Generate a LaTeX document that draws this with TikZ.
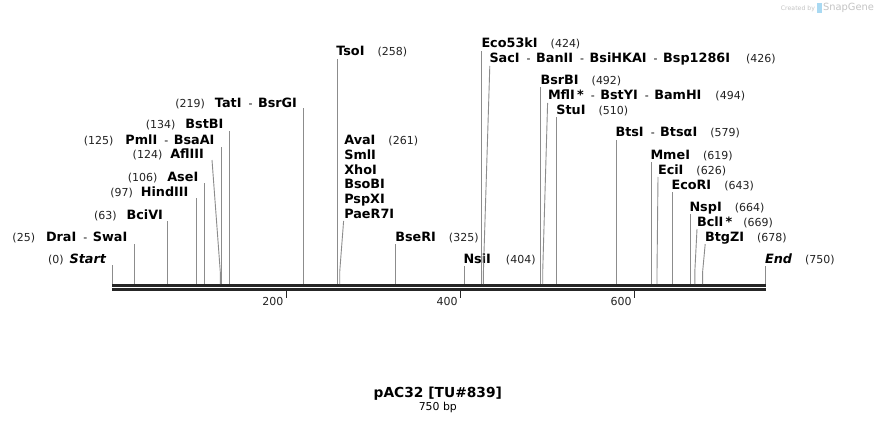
\documentclass[tikz,border=0pt]{standalone}
\usepackage{fontspec}
\setmainfont{DejaVu Sans}
\newcommand\SGname[1]{{\fontsize{12.8}{14}\selectfont\bfseries #1}}
\newcommand\SGnum[1]{{\fontsize{11}{13}\selectfont\color{numcol}#1}}
\newcommand\SGdash{\hspace{7pt}{\fontsize{11}{13}\selectfont -}\hspace{5.5pt}}
\definecolor{numcol}{HTML}{222222}
\definecolor{sitecol}{HTML}{8C8C8C}
\definecolor{barcol}{HTML}{262626}
\definecolor{wmcol}{HTML}{C4C4C4}
\definecolor{wmblue}{HTML}{A9D9F2}
\begin{document}
\begin{tikzpicture}[x=1pt,y=-1pt,
  lab/.style={inner sep=0pt, outer sep=0pt, text=black},
  site/.style={draw=sitecol, line width=0.9pt},
  bar/.style={fill=barcol, draw=none},
  tick/.style={draw=barcol, line width=1.6pt}]
\useasboundingbox (0,0) rectangle (878,423);
\fill[white] (0,0) rectangle (878,423);

% sequence bar
\fill[bar] (112.3,283.6) rectangle (765.7,286.6);
\fill[bar] (112.3,288.0) rectangle (765.7,290.8);

% ticks
\draw[tick] (286.4,290.8) -- (286.4,297.5);
\draw[tick] (460.5,290.8) -- (460.5,297.5);
\draw[tick] (634.6,290.8) -- (634.6,297.5);
\node[lab, anchor=base east] (t200) at (283.4,305) {\SGnum{200}};
\node[lab, anchor=base east] (t400) at (457.5,305) {\SGnum{400}};
\node[lab, anchor=base east] (t600) at (631.6,305) {\SGnum{600}};

% ---------- left-side labels ----------
\node[lab, anchor=base east] (start) at (106,263) {\SGnum{(0)}\hspace{6pt}\SGname{\itshape Start}};
\coordinate (startT) at (112.3,265); \coordinate (startP) at (112.3,284);
\draw[site] (startT) -- (startP);

\node[lab, anchor=base east] (dra) at (127.3,241.5) {\SGnum{(25)}\hspace{11pt}\SGname{DraI}\SGdash\SGname{SwaI}};
\coordinate (draT) at (134.1,244); \coordinate (draP) at (134.1,284);
\draw[site] (draT) -- (draP);

\node[lab, anchor=base east] (bci) at (163,219.5) {\SGnum{(63)}\hspace{10pt}\SGname{BciVI}};
\coordinate (bciT) at (167.2,221); \coordinate (bciP) at (167.2,284);
\draw[site] (bciT) -- (bciP);

\node[lab, anchor=base east] (hind) at (188.5,196.5) {\SGnum{(97)}\hspace{8pt}\SGname{HindIII}};
\coordinate (hindT) at (196.8,198); \coordinate (hindP) at (196.8,284);
\draw[site] (hindT) -- (hindP);

\node[lab, anchor=base east] (ase) at (198.3,181) {\SGnum{(106)}\hspace{10pt}\SGname{AseI}};
\coordinate (aseT) at (204.6,183); \coordinate (aseP) at (204.6,284);
\draw[site] (aseT) -- (aseP);

\node[lab, anchor=base east] (afl) at (204,158) {\SGnum{(124)}\hspace{8pt}\SGname{AflIII}};
\coordinate (aflT) at (212,160); \coordinate (aflB) at (220.3,272); \coordinate (aflP) at (220.3,284);
\draw[site] (aflT) -- (aflB) -- (aflP);

\node[lab, anchor=base east] (pml) at (214.5,144.5) {\SGnum{(125)}\hspace{12pt}\SGname{PmlI}\SGdash\SGname{BsaAI}};
\coordinate (pmlT) at (221.2,147); \coordinate (pmlP) at (221.2,284);
\draw[site] (pmlT) -- (pmlP);

\node[lab, anchor=base east] (bstb) at (223.5,128) {\SGnum{(134)}\hspace{10pt}\SGname{BstBI}};
\coordinate (bstbT) at (229,131); \coordinate (bstbP) at (229,284);
\draw[site] (bstbT) -- (bstbP);

\node[lab, anchor=base east] (tat) at (297,107) {\SGnum{(219)}\hspace{10pt}\SGname{TatI}\SGdash\SGname{BsrGI}};
\coordinate (tatT) at (303.1,108); \coordinate (tatP) at (303.1,284);
\draw[site] (tatT) -- (tatP);

% ---------- right-side labels ----------
\node[lab, anchor=base west] (tso) at (336.3,55) {\SGname{TsoI}\hspace{13pt}\SGnum{(258)}};
\coordinate (tsoT) at (337.1,59); \coordinate (tsoP) at (337.1,284);
\draw[site] (tsoT) -- (tsoP);

\node[lab, anchor=base west] (ava) at (344.3,144.5) {\SGname{AvaI}\hspace{13pt}\SGnum{(261)}};
\node[lab, anchor=base west] (sml) at (344.3,159.3) {\SGname{SmlI}};
\node[lab, anchor=base west] (xho) at (344.3,174) {\SGname{XhoI}};
\node[lab, anchor=base west] (bso) at (344.3,188.8) {\SGname{BsoBI}};
\node[lab, anchor=base west] (psp) at (344.3,203.5) {\SGname{PspXI}};
\node[lab, anchor=base west] (pae) at (344.3,218.3) {\SGname{PaeR7I}};
\coordinate (avaT) at (343.6,221); \coordinate (avaB) at (339.7,272); \coordinate (avaP) at (339.7,284);
\draw[site] (avaT) -- (avaB) -- (avaP);

\node[lab, anchor=base west] (bser) at (395.3,241.5) {\SGname{BseRI}\hspace{13pt}\SGnum{(325)}};
\coordinate (bserT) at (395.4,244); \coordinate (bserP) at (395.4,284);
\draw[site] (bserT) -- (bserP);

\node[lab, anchor=base west] (nsi) at (463.5,263.5) {\SGname{NsiI}\hspace{15pt}\SGnum{(404)}};
\coordinate (nsiT) at (464.1,266); \coordinate (nsiP) at (464.1,284);
\draw[site] (nsiT) -- (nsiP);

\node[lab, anchor=base west] (eco53) at (481.5,47) {\SGname{Eco53kI}\hspace{13pt}\SGnum{(424)}};
\coordinate (eco53T) at (481.7,51); \coordinate (eco53P) at (481.7,284);
\draw[site] (eco53T) -- (eco53P);

\node[lab, anchor=base west] (sac) at (489.5,62) {\SGname{SacI}\SGdash\SGname{BanII}\SGdash\SGname{BsiHKAI}\SGdash\SGname{Bsp1286I}\hspace{16pt}\SGnum{(426)}};
\coordinate (sacT) at (489.8,66); \coordinate (sacB) at (483.4,272); \coordinate (sacP) at (483.4,284);
\draw[site] (sacT) -- (sacB) -- (sacP);

\node[lab, anchor=base west] (bsrb) at (540.5,84.5) {\SGname{BsrBI}\hspace{13pt}\SGnum{(492)}};
\coordinate (bsrbT) at (540.9,87); \coordinate (bsrbP) at (540.9,284);
\draw[site] (bsrbT) -- (bsrbP);

\node[lab, anchor=base west] (mfl) at (548,99.5) {\SGname{MflI\,*}\SGdash\SGname{BstYI}\SGdash\SGname{BamHI}\hspace{14pt}\SGnum{(494)}};
\coordinate (mflT) at (547.6,103); \coordinate (mflB) at (542.7,272); \coordinate (mflP) at (542.7,284);
\draw[site] (mflT) -- (mflB) -- (mflP);

\node[lab, anchor=base west] (stu) at (556.3,114.5) {\SGname{StuI}\hspace{13pt}\SGnum{(510)}};
\coordinate (stuT) at (556.6,117); \coordinate (stuP) at (556.6,284);
\draw[site] (stuT) -- (stuP);

\node[lab, anchor=base west] (bts) at (615.5,136.5) {\SGname{BtsI}\SGdash\SGname{BtsαI}\hspace{13pt}\SGnum{(579)}};
\coordinate (btsT) at (616.2,140); \coordinate (btsP) at (616.2,284);
\draw[site] (btsT) -- (btsP);

\node[lab, anchor=base west] (mme) at (650.5,159) {\SGname{MmeI}\hspace{13pt}\SGnum{(619)}};
\coordinate (mmeT) at (651.2,162); \coordinate (mmeP) at (651.2,284);
\draw[site] (mmeT) -- (mmeP);

\node[lab, anchor=base west] (eci) at (658,174.5) {\SGname{EciI}\hspace{13pt}\SGnum{(626)}};
\coordinate (eciT) at (658,177); \coordinate (eciB) at (657,272); \coordinate (eciP) at (657,284);
\draw[site] (eciT) -- (eciB) -- (eciP);

\node[lab, anchor=base west] (ecor) at (671.5,189.5) {\SGname{EcoRI}\hspace{13pt}\SGnum{(643)}};
\coordinate (ecorT) at (672,192); \coordinate (ecorP) at (672,284);
\draw[site] (ecorT) -- (ecorP);

\node[lab, anchor=base west] (nsp) at (689.5,211.5) {\SGname{NspI}\hspace{13pt}\SGnum{(664)}};
\coordinate (nspT) at (690,214); \coordinate (nspP) at (690,284);
\draw[site] (nspT) -- (nspP);

\node[lab, anchor=base west] (bcl) at (697,226.5) {\SGname{BclI\,*}\hspace{11pt}\SGnum{(669)}};
\coordinate (bclT) at (697,229); \coordinate (bclB) at (694.8,272); \coordinate (bclP) at (694.8,284);
\draw[site] (bclT) -- (bclB) -- (bclP);

\node[lab, anchor=base west] (btgz) at (705,241.5) {\SGname{BtgZI}\hspace{13pt}\SGnum{(678)}};
\coordinate (btgzT) at (705.2,244); \coordinate (btgzB) at (702.6,272); \coordinate (btgzP) at (702.6,284);
\draw[site] (btgzT) -- (btgzB) -- (btgzP);

\node[lab, anchor=base west] (endl) at (765,263.5) {\SGname{\itshape End}\hspace{13pt}\SGnum{(750)}};
\coordinate (endT) at (765.5,266); \coordinate (endP) at (765.5,284);
\draw[site] (endT) -- (endP);

% ---------- title ----------
\node[lab, anchor=base] (title) at (437.8,397.3) {\fontsize{13.8}{16}\selectfont\bfseries pAC32 [TU\#839]};
\node[lab, anchor=base] (size) at (437.8,410.7) {\fontsize{10.9}{13}\selectfont 750 bp};

% ---------- watermark ----------
\node[lab, anchor=base east, text=wmcol] (wm1) at (815,10) {\fontsize{6.2}{7}\selectfont Created by};
\fill[wmblue] (817,2.5) rectangle (821.5,13);
\node[lab, anchor=base west, text=wmcol] (wm2) at (823,10.5) {\fontsize{9.9}{11}\selectfont SnapGene};
\end{tikzpicture}
\end{document}
